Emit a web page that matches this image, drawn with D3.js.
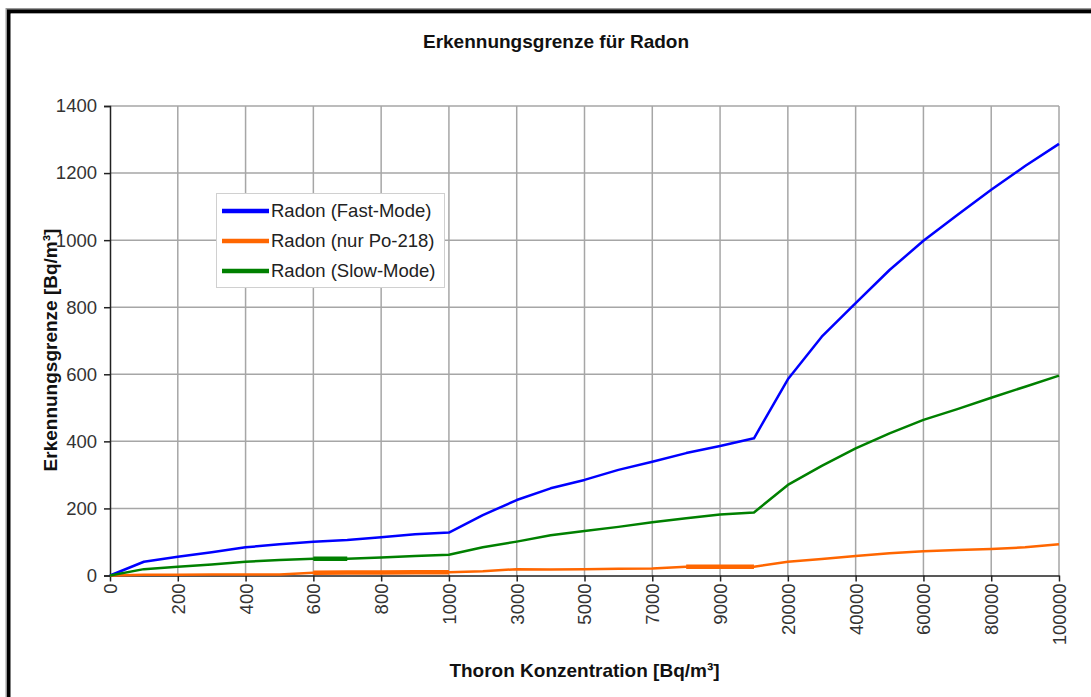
<!DOCTYPE html>
<html>
<head>
<meta charset="utf-8">
<script src="https://cdn.jsdelivr.net/npm/d3@7.9.0/dist/d3.min.js"></script>
<style>
    body { margin: 0; background: #fff; }
    text { font-family: Arial, 'Liberation Sans', sans-serif; }
</style>
</head>
<body>
<div id="chart"></div>
<script>
// thoron concentration categories (x axis is categorical)
const categories = [0, 100, 200, 300, 400, 500, 600, 700, 800, 900, 1000,
    2000, 3000, 4000, 5000, 6000, 7000, 8000, 9000, 10000,
    20000, 30000, 40000, 50000, 60000, 70000, 80000, 90000, 100000];

const yTicks = [0, 200, 400, 600, 800, 1000, 1200, 1400];

// Erkennungsgrenze values
const fastMode = [0, 41, 56, 69, 84, 93, 101, 106, 114, 123, 128,
    180, 225, 260, 285, 315, 339, 365, 386, 409,
    585, 712, 812, 911, 998, 1075, 1150, 1221, 1287];
const po218 = [0, 2, 2, 3, 3, 3, 8, 9, 9, 10, 10,
    13, 19, 18, 19, 20, 21, 26, 26, 26,
    41, 49, 58, 66, 72, 76, 79, 84, 93];
const slowMode = [0, 19, 26, 33, 41, 46, 50, 50, 54, 58, 62,
    84, 101, 120, 133, 145, 159, 171, 182, 188,
    270, 327, 379, 424, 464, 496, 530, 563, 596];

const seriesNames = ['Radon (Fast-Mode)', 'Radon (nur Po-218)', 'Radon (Slow-Mode)'];
const seriesColors = ['#0000ff', '#ff6600', '#008000'];

// stretches where the original print shows the line doubled (index ranges)
const thickParts = [
    { series: 2, from: 6, to: 7 },
    { series: 1, from: 6, to: 10 },
    { series: 1, from: 17, to: 19 }
];

const width = 1091;
const height = 697;

const svg = d3.select('#chart')
    .append('svg')
    .attr('width', width)
    .attr('height', height);

// outer frame
svg.append('path')
    .attr('d', `M9,${height + 5} V11.5 H${width + 5}`)
    .attr('fill', 'none')
    .attr('stroke', '#999')
    .attr('stroke-width', 7);
svg.append('path')
    .attr('d', `M9,${height + 5} V11.5 H${width + 5}`)
    .attr('fill', 'none')
    .attr('stroke', '#000')
    .attr('stroke-width', 4)
    .attr('stroke-linejoin', 'miter');
svg.append('rect')
    .attr('x', 10.5).attr('y', 13.5)
    .attr('width', width).attr('height', height)
    .attr('fill', '#fff');

const area = { left: 110, right: 1059, top: 106, bottom: 575.5 };

const x = d3.scalePoint()
    .domain(categories.map(String))
    .range([area.left, area.right]);

const y = d3.scaleLinear()
    .domain([0, 1400])
    .range([area.bottom, area.top]);

const labelled = categories.filter((d, i) => i % 2 === 0).map(String);

// gridlines
const grid = svg.append('g').attr('class', 'grid');
grid.selectAll('line.h')
    .data(yTicks.slice(1))
    .enter()
    .append('line')
    .attr('x1', area.left).attr('x2', area.right)
    .attr('y1', d => y(d)).attr('y2', d => y(d))
    .attr('stroke', '#a6a6a6')
    .attr('stroke-width', 1.5);
grid.selectAll('line.v')
    .data(labelled.slice(1))
    .enter()
    .append('line')
    .attr('x1', d => x(d)).attr('x2', d => x(d))
    .attr('y1', area.top).attr('y2', area.bottom)
    .attr('stroke', '#a6a6a6')
    .attr('stroke-width', 1.5);

// y axis
const yAxis = svg.append('g')
    .attr('class', 'y-axis')
    .attr('transform', `translate(${area.left}, 0)`)
    .call(d3.axisLeft(y).tickValues(yTicks).tickFormat(d3.format('d')).tickSize(6).tickPadding(7));
yAxis.select('.domain').attr('stroke', '#222').attr('stroke-width', 1.5);
yAxis.selectAll('.tick line').attr('stroke', '#222').attr('stroke-width', 1.5);
yAxis.selectAll('.tick text')
    .attr('font-size', '18.5px')
    .attr('fill', '#333');

// x axis
const xAxis = svg.append('g')
    .attr('class', 'x-axis')
    .attr('transform', `translate(0, ${area.bottom})`)
    .call(d3.axisBottom(x).tickValues(labelled).tickSize(6).tickSizeOuter(0));
xAxis.select('.domain').attr('stroke', '#222').attr('stroke-width', 1.5);
xAxis.selectAll('.tick line').attr('stroke', '#222').attr('stroke-width', 1.5);
xAxis.selectAll('.tick text')
    .attr('font-size', '18.5px')
    .attr('fill', '#333')
    .attr('text-anchor', 'end')
    .attr('transform', 'rotate(-90)')
    .attr('x', -8)
    .attr('y', 0)
    .attr('dy', '0.35em');

// lines
const allSeries = [fastMode, po218, slowMode];
const line = d3.line()
    .x((d, i) => x(String(categories[i])))
    .y(d => y(d));

const lines = svg.append('g').attr('class', 'lines');
allSeries.forEach((values, k) => {
    lines.append('path')
        .datum(values)
        .attr('fill', 'none')
        .attr('stroke', seriesColors[k])
        .attr('stroke-width', 2.5)
        .attr('stroke-linejoin', 'round')
        .attr('d', line);
});

thickParts.forEach(p => {
    const part = allSeries[p.series].slice(p.from, p.to + 1);
    lines.append('path')
        .datum(part)
        .attr('fill', 'none')
        .attr('stroke', seriesColors[p.series])
        .attr('stroke-width', 4.5)
        .attr('d', d3.line()
            .x((d, i) => x(String(categories[p.from + i])))
            .y(d => y(d)));
});

// title
svg.append('text')
    .attr('x', 556)
    .attr('y', 48)
    .attr('text-anchor', 'middle')
    .attr('font-size', '19px')
    .attr('font-weight', 'bold')
    .attr('fill', '#111')
    .text('Erkennungsgrenze für Radon');

// axis titles
svg.append('text')
    .attr('x', (area.left + area.right) / 2)
    .attr('y', 677)
    .attr('text-anchor', 'middle')
    .attr('font-size', '19px')
    .attr('font-weight', 'bold')
    .attr('fill', '#111')
    .text('Thoron Konzentration [Bq/m³]');

svg.append('text')
    .attr('transform', 'rotate(-90)')
    .attr('x', -350)
    .attr('y', 57)
    .attr('text-anchor', 'middle')
    .attr('font-size', '19px')
    .attr('font-weight', 'bold')
    .attr('fill', '#111')
    .text('Erkennungsgrenze [Bq/m³]');

// legend
const legend = svg.append('g')
    .attr('class', 'legend')
    .attr('transform', 'translate(216, 193)');

legend.append('rect')
    .attr('x', 0.5).attr('y', 0.5)
    .attr('width', 228).attr('height', 94)
    .attr('fill', '#fff')
    .attr('stroke', '#d0d0d0')
    .attr('stroke-width', 1);

const legendItem = legend.selectAll('.legend-item')
    .data(seriesNames)
    .enter()
    .append('g')
    .attr('class', 'legend-item')
    .attr('transform', (d, i) => `translate(0, ${18 + i * 30})`);

legendItem.append('line')
    .attr('x1', 6).attr('x2', 53)
    .attr('y1', 0).attr('y2', 0)
    .attr('stroke', (d, i) => seriesColors[i])
    .attr('stroke-width', 4.5);

legendItem.append('text')
    .attr('x', 55)
    .attr('y', 0)
    .attr('dy', '0.35em')
    .attr('font-size', '18.5px')
    .attr('fill', '#222')
    .text(d => d);
</script>
</body>
</html>
